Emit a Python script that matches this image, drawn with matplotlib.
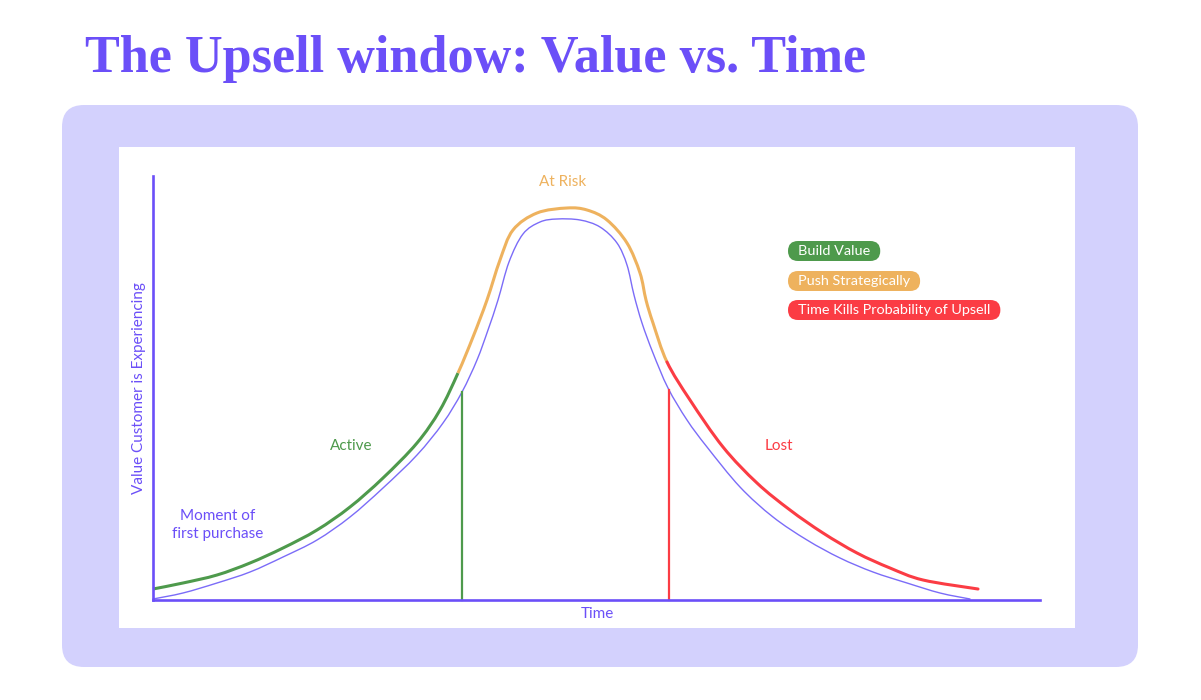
import matplotlib
matplotlib.use("Agg")
import matplotlib.pyplot as plt
import numpy as np
from matplotlib.patches import FancyBboxPatch, Rectangle, PathPatch
from matplotlib.path import Path

# ---------------- data (time / value units) ----------------
active_t = [0, 30, 64, 97, 130, 164, 197, 230, 264, 287, 305]
active_v = [11, 17, 25, 37, 52, 70, 93, 122, 157, 190, 227]

risk_t = [305, 320, 334, 347, 360, 384, 414, 434, 454, 474, 487, 493, 500, 514]
risk_v = [227, 263, 300, 340, 370, 387, 392, 390, 380, 357, 327, 300, 277, 238]

lost_t = [514, 537, 570, 604, 637, 670, 704, 737, 770, 825]
lost_v = [238, 200, 153, 117, 90, 67, 47, 32, 20, 11]

base_t = [0, 30, 64, 97, 130, 164, 197, 230, 264, 290, 309, 324, 335, 345, 356,
          370, 387, 404, 427, 447, 464, 474, 481, 489, 500, 515, 534, 554,
          587, 620, 654, 687, 720, 754, 787, 817]
base_v = [1, 7, 17, 28, 43, 60, 83, 112, 145, 177, 208, 240, 270, 300, 338,
          366, 378, 381, 380, 373, 357, 335, 305, 277, 247, 212, 180, 153,
          113, 83, 60, 42, 28, 17, 7, 1]

active_end = (309, 208)
lost_start = (516, 210)

legend_labels = ["Build Value", "Push Strategically", "Time Kills Probability of Upsell"]
region_labels = ["Active", "At Risk", "Lost"]

# ---------------- style ----------------
PURPLE = "#6b4ff8"
LAVENDER = "#d3d1fd"
GREEN = "#4e9a4c"
ORANGE = "#eeb25e"
RED = "#fb3c44"
BLUE = "#7b6cf8"
SANS = ["Lato", "DejaVu Sans"]


def smooth_line(ax, xs, ys, prev=None, nxt=None, **kw):
    """Draw a smooth (Catmull-Rom style Bezier) line through the given points."""
    pts = np.column_stack([xs, ys]).astype(float)
    ext = [prev if prev is not None else pts[0]] + list(pts) + \
          [nxt if nxt is not None else pts[-1]]
    ext = np.array(ext, dtype=float)
    verts = [pts[0]]
    codes = [Path.MOVETO]
    for i in range(1, len(ext) - 2):
        p0, p1, p2, p3 = ext[i - 1], ext[i], ext[i + 1], ext[i + 2]
        c1 = p1 + (p2 - p0) / 6.0
        c2 = p2 - (p3 - p1) / 6.0
        verts += [c1, c2, p2]
        codes += [Path.CURVE4] * 3
    patch = PathPatch(Path(verts, codes), fill=False, clip_on=False, **kw)
    ax.add_patch(patch)


W, H = 1201, 700
fig = plt.figure(figsize=(W / 100, H / 100), dpi=100)
fig.patch.set_facecolor("white")

# background layer in pixel coordinates
bg = fig.add_axes([0, 0, 1, 1])
bg.set_xlim(0, W)
bg.set_ylim(H, 0)
bg.axis("off")
bg.add_patch(FancyBboxPatch((62, 105), 1076, 562,
                            boxstyle="round,pad=0,rounding_size=22",
                            fc=LAVENDER, ec="none"))
bg.add_patch(Rectangle((119, 147), 956, 481, fc="white", ec="none"))

bg.text(85, 72, "The Upsell window: Value vs. Time", fontsize=37.6,
        family=["Liberation Serif", "DejaVu Serif"], fontweight="bold",
        color=PURPLE, ha="left", va="baseline")

# main axes: origin at pixel (153, 600), top at 176, right at 1040
ax = fig.add_axes([153 / W, (H - 600) / H, 887 / W, 424 / H])
ax.set_xlim(0, 887)
ax.set_ylim(0, 424)
ax.patch.set_alpha(0)
for s in ["top", "right"]:
    ax.spines[s].set_visible(False)
for s in ["left", "bottom"]:
    ax.spines[s].set_color(PURPLE)
    ax.spines[s].set_linewidth(1.9)
ax.set_xticks([])
ax.set_yticks([])

smooth_line(ax, base_t, base_v, ec=BLUE, lw=1.0, capstyle="round")
smooth_line(ax, active_t, active_v, nxt=(risk_t[1], risk_v[1]), ec=GREEN, lw=2.2, capstyle="butt")
smooth_line(ax, risk_t, risk_v, prev=(active_t[-2], active_v[-2]),
            nxt=(lost_t[1], lost_v[1]), ec=ORANGE, lw=2.2, capstyle="butt")
smooth_line(ax, lost_t, lost_v, prev=(risk_t[-2], risk_v[-2]), ec=RED, lw=2.2, capstyle="round")
ax.plot([active_end[0], active_end[0]], [0, active_end[1]], color=GREEN, lw=1.6, clip_on=False)
ax.plot([lost_start[0], lost_start[0]], [0, lost_start[1]], color=RED, lw=1.6, clip_on=False)

# labels
FS = 11
bg.text(597, 614, "Time", fontsize=FS, family=SANS, color=PURPLE, ha="center", va="center")
bg.text(139, 388, "Value Customer is Experiencing", fontsize=FS, family=SANS,
        color=PURPLE, ha="center", va="center", rotation=90)
bg.text(218, 525, "Moment of\nfirst purchase", fontsize=FS, family=SANS,
        color=PURPLE, ha="center", va="center", linespacing=1.3)
bg.text(351, 446, region_labels[0], fontsize=FS, family=SANS, color=GREEN, ha="center", va="center")
bg.text(563, 182, region_labels[1], fontsize=FS, family=SANS, color=ORANGE, ha="center", va="center")
bg.text(779, 446, region_labels[2], fontsize=FS, family=SANS, color=RED, ha="center", va="center")

# legend pills
pill_colors = [GREEN, ORANGE, RED]
pill_y = [251, 281, 310]
fig.canvas.draw()
renderer = fig.canvas.get_renderer()
inv = bg.transData.inverted()
for lab, col, yc in zip(legend_labels, pill_colors, pill_y):
    t = bg.text(798, yc, lab, fontsize=10.4, family=SANS, color="white",
                ha="left", va="center", zorder=5)
    ext = t.get_window_extent(renderer)
    (x0, _), (x1, _) = inv.transform([[ext.x0, ext.y0], [ext.x1, ext.y1]])
    ph = 20
    bg.add_patch(FancyBboxPatch((788, yc - ph / 2), (x1 - 788) + 10, ph,
                                boxstyle="round,pad=0,rounding_size=10",
                                fc=col, ec="none", zorder=4))

fig.savefig("out.png", dpi=100, facecolor="white")
